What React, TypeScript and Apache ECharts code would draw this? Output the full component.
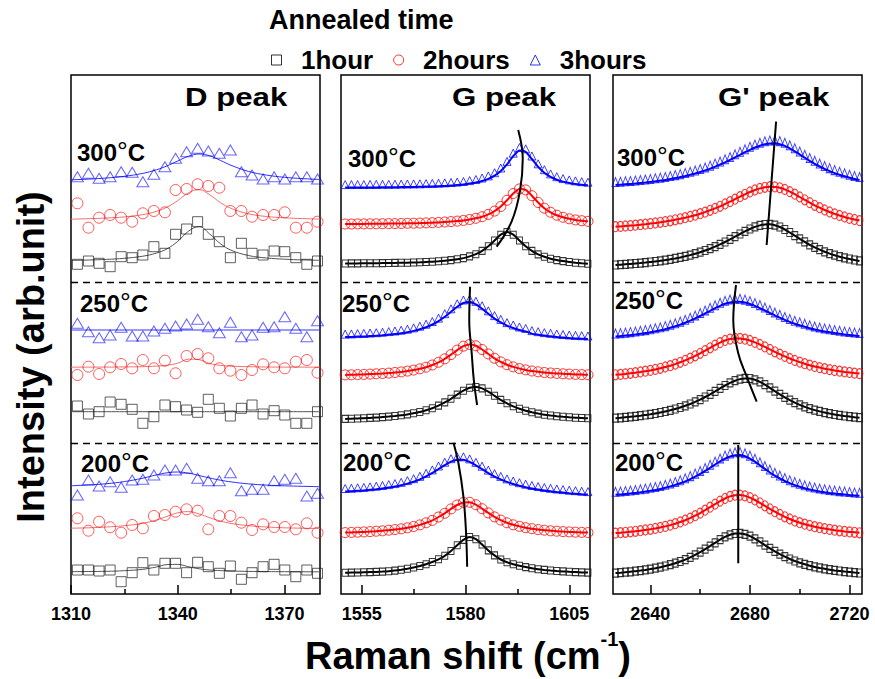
import React, { useEffect, useRef } from 'react';
import * as echarts from 'echarts';

// ---------------- DATA ----------------
const HOURS = ['1hour', '2hours', '3hours'];
const TEMPS = ['300', '250', '200'];

// D peak: measured points and fitted curves
const dX = [1311.8, 1314.9, 1317.9, 1321, 1324.1, 1327.2, 1330.2, 1333.3, 1336.4, 1339.4, 1342.5, 1345.6, 1348.6, 1351.7, 1354.8, 1357.9, 1360.9, 1364, 1367.1, 1370.1, 1373.2, 1376.3, 1379.3];
const d300h1 = [329.7, 333, 330.7, 327.3, 337.3, 336.3, 339, 347.3, 340.7, 359.7, 365, 372.3, 359.7, 352.3, 336.3, 350.7, 340.7, 339, 343, 342.3, 336.3, 329.7, 333];
const d300h2 = [390.7, 366.3, 376.3, 379, 376.3, 372.3, 380.7, 383, 381.7, 404, 405, 409.7, 408, 406.3, 383, 383, 377.3, 379, 379, 381.7, 366.3, 366.3, 372.3];
const d300h3 = [417.3, 420.7, 415.7, 417.3, 422.3, 421.7, 412.3, 419.7, 427.3, 435.7, 442.3, 445.7, 443, 440.7, 444, 422.3, 419, 415, 417.3, 415, 417.3, 417.3, 415];
const d250h1 = [188, 180, 182.3, 192, 189.7, 184.7, 170.7, 177.3, 189, 187.3, 184, 181.7, 194.7, 185.7, 178, 185.7, 189, 180, 183.3, 179, 170.7, 170.7, 182.3];
const d250h2 = [219, 227.3, 220, 226.7, 230, 225.7, 234, 225.7, 233.3, 220.7, 238, 240, 235.7, 225.7, 223.3, 219, 224, 229.7, 226.7, 225.7, 232.3, 234, 221.3];
const d250h3 = [270.7, 262.3, 256.3, 259, 266.7, 258, 258, 263, 265.7, 268, 270, 274.7, 267.3, 261.3, 271.7, 257.3, 259, 266.7, 267.3, 277.3, 265.7, 257.3, 273.3];
const d200h1 = [24, 24, 23, 24, 12.3, 21.3, 31.3, 24, 30.7, 30.7, 21.3, 31.7, 27.3, 20.7, 28, 14.7, 21.3, 27.3, 29.7, 24, 17.3, 24, 20.7];
const d200h2 = [75.7, 63.3, 72.3, 66.7, 61.3, 69, 65.7, 78, 79, 82.3, 84.7, 83.3, 64.7, 78, 78, 71.3, 64, 69.7, 67, 67, 64.7, 70.7, 61.3];
const d200h3 = [99, 114, 108, 112.3, 106.7, 114, 114.7, 119, 124, 124, 125.7, 115.7, 113.3, 113.3, 121.3, 103.3, 104.7, 104.7, 113.3, 114.7, 115.7, 98, 100.7];

const dFitX = [1310, 1315, 1320, 1325, 1330, 1334, 1337, 1340, 1343, 1346, 1349, 1352, 1355, 1360, 1365, 1370, 1375, 1380];
const d300h1Fit = [333.6, 334, 334.6, 335.7, 337.7, 340.9, 345.2, 352.6, 362.7, 367.4, 360, 350.3, 343.8, 338.4, 336, 334.8, 334.1, 333.7];
const d300h2Fit = [374.8, 375.3, 376, 377.1, 379.3, 382.6, 386.9, 393.4, 401.2, 404.4, 399.2, 391.4, 385.6, 380.1, 377.5, 376.2, 375.4, 374.9];
const d300h3Fit = [414.2, 414.9, 416, 417.7, 420.5, 424.2, 428.1, 433, 437.7, 440, 438.2, 433.6, 428.7, 422.5, 418.9, 416.7, 415.4, 414.5];
const d250h1Fit = [182.3, 182.3, 182.3, 182.3, 182.3, 182.3, 182.3, 182.3, 182.3, 182.3, 182.3, 182.3, 182.3, 182.3, 182.3, 182.3, 182.3, 182.3];
const d250h2Fit = [226.8, 226.9, 226.9, 227.1, 227.3, 227.9, 228.8, 230.8, 234.8, 234.3, 230.5, 228.6, 227.8, 227.3, 227, 226.9, 226.9, 226.8];
const d250h3Fit = [264, 264, 264, 264, 264, 264, 264, 264, 264, 264, 264, 264, 264, 264, 264, 264, 264, 264];
const d200h1Fit = [22.3, 22.5, 22.7, 23.3, 24.6, 27, 29.4, 29.6, 27.3, 25.2, 24, 23.4, 23, 22.6, 22.4, 22.3, 22.2, 22.2];
const d200h2Fit = [65.8, 66.2, 67, 68.3, 70.6, 74, 77.6, 81.2, 82.4, 80.1, 76.3, 73, 70.6, 68.3, 67, 66.2, 65.8, 65.5];
const d200h3Fit = [108.2, 109.1, 110.3, 112.4, 115.7, 119.1, 121.2, 122, 120.9, 118.5, 116, 113.8, 112.1, 110.1, 108.9, 108.2, 107.7, 107.3];

// G peak
const gX = [1551, 1552.5, 1554, 1555.5, 1557, 1558.5, 1560, 1561.5, 1563, 1564.5, 1566, 1567.5, 1569, 1570.5, 1572, 1573.5, 1575, 1576.5, 1578, 1579.5, 1581, 1582.5, 1584, 1585.5, 1587, 1588.5, 1590, 1591.5, 1593, 1594.5, 1596, 1597.5, 1599, 1600.5, 1602, 1603.5, 1605, 1606.5, 1608, 1609.5];
const g300h1 = [330.5, 330.6, 330.6, 330.7, 330.7, 330.8, 330.9, 331, 331.1, 331.2, 331.3, 331.5, 331.7, 332, 332.3, 332.7, 333.2, 333.9, 334.7, 335.9, 337.6, 339.8, 343.1, 347.7, 353.5, 359.3, 362, 359.3, 353.5, 347.7, 343.1, 339.6, 337.2, 335.3, 333.9, 332.9, 332, 331.3, 330.7, 330.2];
const g300h2 = [370, 370, 370.1, 370.1, 370.2, 370.2, 370.3, 370.4, 370.4, 370.5, 370.7, 370.8, 370.9, 371.1, 371.3, 371.6, 372, 372.4, 372.9, 373.6, 374.5, 375.7, 377.3, 379.6, 382.9, 387.5, 393.7, 400.5, 405.1, 404.1, 398.3, 391.5, 385.8, 381.7, 378.8, 376.7, 375.2, 374.1, 373.3, 372.7];
const g300h3 = [406.4, 406.5, 406.5, 406.5, 406.6, 406.6, 406.7, 406.7, 406.8, 406.9, 407, 407.1, 407.2, 407.4, 407.6, 407.8, 408.1, 408.5, 408.9, 409.5, 410.4, 411.5, 413, 415.1, 418.3, 423, 429.6, 437.8, 443.5, 442.2, 435, 427.2, 421.3, 417.1, 414.3, 412.4, 411.1, 410.1, 409.3, 408.8];
const g250h1 = [175.1, 175.3, 175.5, 175.8, 176.1, 176.4, 176.9, 177.4, 178, 178.7, 179.6, 180.7, 182, 183.7, 185.8, 188.4, 191.6, 195.2, 199.4, 203.3, 206.2, 207, 205.6, 202.3, 198.2, 194.1, 190.7, 187.7, 185.2, 183.2, 181.7, 180.4, 179.3, 178.5, 177.8, 177.2, 176.7, 176.3, 176, 175.7];
const g250h2 = [219.1, 219.2, 219.4, 219.6, 219.9, 220.2, 220.5, 220.9, 221.5, 222.1, 222.9, 223.9, 225.2, 226.8, 229, 231.7, 235.2, 239.4, 243.9, 247.8, 249.5, 248.2, 244.5, 240, 235.7, 232.1, 229.3, 227.1, 225.4, 224.1, 223, 222.2, 221.5, 221, 220.6, 220.2, 219.9, 219.6, 219.4, 219.2];
const g250h3 = [256.9, 257.1, 257.4, 257.6, 258, 258.3, 258.8, 259.4, 260, 260.8, 261.8, 263.1, 264.8, 266.8, 269.5, 272.9, 277.3, 282.2, 287.2, 291, 291.9, 289.7, 285.3, 280.2, 275.4, 271.6, 268.4, 266, 264, 262.6, 260.4, 259.3, 258.4, 257.7, 257, 256.5, 256, 255.6, 255.3, 255];
const g200h1 = [21.2, 21.4, 21.5, 21.7, 21.9, 22.1, 22.4, 22.8, 23.4, 24.3, 25.3, 26.5, 28, 29.8, 32, 34.7, 38.2, 43, 48.8, 54.1, 57, 54.8, 49.5, 43.6, 38.6, 34.5, 31.8, 29.8, 28.2, 26.9, 25.7, 24.8, 24.1, 23.5, 23, 22.6, 22.2, 21.9, 21.6, 21.4];
const g200h2 = [61.4, 61.6, 61.8, 62.1, 62.4, 62.8, 63.2, 63.8, 64.4, 65.2, 66.2, 67.5, 69.1, 71.2, 73.6, 77, 80.7, 85.1, 89, 91.6, 91.7, 89.3, 85.3, 81.1, 77.1, 73.9, 71.2, 69.2, 67.6, 66.3, 65.3, 64.4, 63.8, 63.2, 62.8, 62.4, 62.1, 61.8, 61.6, 61.4];
const g200h3 = [102.5, 102.8, 103.2, 103.6, 104.2, 104.8, 105.5, 106.4, 107.4, 108.7, 110.4, 112.3, 114.7, 117.7, 121.1, 125, 128.8, 132.3, 134.3, 134.2, 132.1, 128.7, 124.8, 120.9, 117.4, 114.6, 112.1, 110, 108.3, 106.8, 105.5, 104.5, 103.5, 102.7, 102, 101.4, 100.8, 100.3, 99.8, 99.4];

// G' peak
const gpX = [2626, 2628, 2630, 2632, 2634, 2636, 2638, 2640, 2642, 2644, 2646, 2648, 2650, 2652, 2654, 2656, 2658, 2660, 2662, 2664, 2666, 2668, 2670, 2672, 2674, 2676, 2678, 2680, 2682, 2684, 2686, 2688, 2690, 2692, 2694, 2696, 2698, 2700, 2702, 2704, 2706, 2708, 2710, 2712, 2714, 2716, 2718, 2720, 2722, 2724];
const gp300h1 = [329, 329.3, 329.7, 330.1, 330.5, 330.9, 331.4, 332, 332.5, 333.2, 333.9, 334.7, 335.6, 336.6, 337.7, 338.9, 340.3, 341.8, 343.5, 345.3, 347.4, 349.6, 352, 354.6, 357.3, 360, 362.6, 365, 367.1, 368.6, 369.5, 369.7, 368.8, 367, 364.5, 361.5, 358.4, 355.2, 352.1, 349.2, 346.6, 344.3, 342.2, 340.4, 338.8, 337.3, 336.1, 335, 334, 333.1];
const gp300h2 = [367.3, 367.6, 368, 368.4, 368.8, 369.3, 369.8, 370.4, 371, 371.7, 372.4, 373.2, 374.2, 375.2, 376.3, 377.5, 378.8, 380.3, 381.9, 383.7, 385.6, 387.7, 390, 392.3, 394.8, 397.3, 399.7, 402, 404, 405.6, 406.7, 407.3, 407.1, 406.2, 404.6, 402.4, 399.8, 397, 394.2, 391.4, 388.7, 386.3, 384, 382, 380.1, 378.5, 377, 375.6, 374.5, 373.4];
const gp300h3 = [409, 409.3, 409.7, 410.1, 410.5, 411, 411.5, 412.1, 412.7, 413.4, 414.1, 415, 415.9, 416.9, 418, 419.2, 420.5, 422, 423.6, 425.4, 427.4, 429.5, 431.7, 434.1, 436.7, 439.2, 441.8, 444.2, 446.5, 448.3, 449.7, 450.5, 450.7, 449.9, 448.2, 445.7, 442.7, 439.5, 436.3, 433.1, 430.2, 427.5, 425, 422.9, 420.9, 419.2, 417.7, 416.3, 415.1, 414.1];
const gp250h1 = [175.8, 176.2, 176.7, 177.2, 177.7, 178.3, 179, 179.7, 180.5, 181.5, 182.5, 183.7, 185, 186.5, 188.2, 190, 192.1, 194.4, 197, 199.7, 202.6, 205.6, 208.5, 211.1, 213.3, 214.9, 215.6, 215.5, 214.2, 212.1, 209.3, 206.1, 202.8, 199.6, 196.6, 193.8, 191.3, 189.1, 187.1, 185.4, 183.9, 182.6, 181.4, 180.4, 179.5, 178.7, 178, 177.4, 176.8, 176.3];
const gp250h2 = [219.2, 219.6, 220.1, 220.7, 221.3, 222, 222.8, 223.6, 224.6, 225.7, 227, 228.3, 229.9, 231.7, 233.6, 235.8, 238.2, 240.7, 243.4, 246.2, 248.9, 251.4, 253.5, 254.9, 255.6, 255.6, 254.8, 253.5, 251.6, 249.5, 247.1, 244.6, 242.2, 239.8, 237.6, 235.5, 233.6, 231.9, 230.3, 228.8, 227.5, 226.4, 225.3, 224.4, 223.5, 222.8, 222.1, 221.5, 220.9, 220.4];
const gp250h3 = [257.5, 257.9, 258.4, 258.9, 259.5, 260.2, 260.9, 261.8, 262.7, 263.7, 264.9, 266.2, 267.7, 269.4, 271.3, 273.3, 275.6, 278, 280.6, 283.2, 285.8, 288.2, 290.2, 291.6, 292.3, 292.2, 291.4, 290, 288.1, 285.9, 283.5, 281, 278.6, 276.3, 274.1, 272.1, 270.3, 268.7, 267.2, 265.8, 264.6, 263.6, 262.6, 261.8, 261, 260.3, 259.6, 259.1, 258.6, 258.1];
const gp200h1 = [20.9, 21.3, 21.8, 22.2, 22.8, 23.4, 24.1, 24.9, 25.8, 26.8, 28, 29.3, 30.8, 32.5, 34.4, 36.6, 39.1, 41.8, 44.8, 47.9, 51.2, 54.3, 57.1, 59.2, 60.5, 60.6, 59.7, 57.8, 55.2, 52.2, 48.9, 45.7, 42.7, 39.8, 37.3, 35, 33, 31.2, 29.7, 28.3, 27.1, 26.1, 25.2, 24.3, 23.6, 23, 22.4, 21.9, 21.4, 21];
const gp200h2 = [60.9, 61.3, 61.7, 62.2, 62.7, 63.3, 64, 64.7, 65.6, 66.5, 67.6, 68.9, 70.3, 72, 73.8, 75.9, 78.3, 80.9, 83.8, 86.8, 89.9, 92.9, 95.5, 97.6, 98.8, 98.9, 98.1, 96.4, 94, 91.2, 88.2, 85.2, 82.3, 79.6, 77.2, 75, 73, 71.3, 69.8, 68.5, 67.3, 66.3, 65.4, 64.6, 63.8, 63.2, 62.6, 62.1, 61.7, 61.2];
const gp200h3 = [99.2, 99.6, 100.1, 100.5, 101.1, 101.7, 102.4, 103.2, 104.1, 105.1, 106.3, 107.6, 109.1, 110.8, 112.7, 114.9, 117.4, 120.1, 123.1, 126.2, 129.5, 132.6, 135.4, 137.5, 138.8, 138.9, 137.7, 135.4, 132.3, 128.7, 125.1, 121.5, 118.3, 115.5, 113, 110.8, 108.9, 107.3, 105.8, 104.6, 103.5, 102.6, 101.8, 101.1, 100.5, 99.9, 99.5, 99, 98.6, 98.3];

// peak-shift guide curves
const gGuide300X = [1592.7, 1593.8, 1593.1, 1591.1, 1587.5];
const gGuide300Y = [464, 435.7, 402.3, 372.3, 347.3];
const gGuide250X = [1581.1, 1580.9, 1581.5, 1582, 1582.8];
const gGuide250Y = [307.3, 274, 240.7, 214, 189];
const gGuide200X = [1577.1, 1578.3, 1579.5, 1580.1, 1580.4];
const gGuide200Y = [151.3, 130.7, 97.3, 64, 27.3];
const gpGuide300X = [2690.5, 2686.7];
const gpGuide300Y = [472.3, 349];
const gpGuide250X = [2674.4, 2673.3, 2675.3, 2678.7, 2682.7];
const gpGuide250Y = [309, 274, 240.7, 217.3, 192.3];
const gpGuide200X = [2675.3, 2675.3];
const gpGuide200Y = [149, 30.7];

// group separators and axis ticks
const dividers = [151, 312];
const dMajor = [1310, 1340, 1370];
const dMinor = [1325, 1355];
const gMajor = [1555, 1580, 1605];
const gMinor = [1567.5, 1592.5];
const gpMajor = [2640, 2680, 2720];
const gpMinor = [2660, 2700];

// ---------------- STYLE ----------------
const FONT = '"Liberation Sans", Arial, Helvetica, sans-serif';
const COLORS = ['#000000', '#ff0000', '#0000ff'];
const MARK_COLORS = ['rgba(20,20,20,0.85)', 'rgba(255,0,0,0.8)', 'rgba(0,0,255,0.75)'];
const D_FIT_COLORS = ['#555555', '#f07070', '#3030ff'];
const SYMBOLS = ['rect', 'circle', 'triangle'];
const D_SIZE: any[] = [10, 11, [12, 10]];
const G_SIZE: any[] = [[6, 7], [10, 10], [8, 8]];
const GP_SIZE: any[] = [[6, 8], [7, 10], [7, 9]];

const zip = (xs: number[], ys: number[]) => xs.map((x, i) => [x, ys[i]]);

function measure(text: string, font: string) {
  const c = document.createElement('canvas').getContext('2d')!;
  c.font = font;
  return c.measureText(text).width;
}

function buildOption() {
  const series: any[] = [];
  const dMarks = [[d300h1, d300h2, d300h3], [d250h1, d250h2, d250h3], [d200h1, d200h2, d200h3]];
  const dFits = [[d300h1Fit, d300h2Fit, d300h3Fit], [d250h1Fit, d250h2Fit, d250h3Fit], [d200h1Fit, d200h2Fit, d200h3Fit]];
  const gSets = [[g300h1, g300h2, g300h3], [g250h1, g250h2, g250h3], [g200h1, g200h2, g200h3]];
  const gpSets = [[gp300h1, gp300h2, gp300h3], [gp250h1, gp250h2, gp250h3], [gp200h1, gp200h2, gp200h3]];

  const markLine = {
    silent: true,
    symbol: 'none',
    label: { show: false },
    lineStyle: { type: [7, 5], color: '#000', width: 1.3 },
    data: dividers.map((v) => ({ yAxis: v })),
  };

  dMarks.forEach((row, ti) =>
    row.forEach((ys, hi) => {
      series.push({
        type: 'scatter', name: HOURS[hi], xAxisIndex: 0, yAxisIndex: 0,
        data: zip(dX, ys), symbol: SYMBOLS[hi], symbolSize: D_SIZE[hi],
        itemStyle: { color: 'rgba(0,0,0,0)', borderColor: MARK_COLORS[hi], borderWidth: 1 },
        silent: true, z: 3,
        ...(ti === 0 && hi === 0 ? { markLine } : {}),
      });
      series.push({
        type: 'line', name: HOURS[hi], xAxisIndex: 0, yAxisIndex: 0,
        data: zip(dFitX, dFits[ti][hi]), smooth: 0.4, showSymbol: false,
        lineStyle: { color: D_FIT_COLORS[hi], width: 1 }, silent: true, z: 2,
      });
    })
  );

  const addDense = (sets: number[][][], xs: number[], gi: number, sizes: any[]) => {
    sets.forEach((row, ti) =>
      row.forEach((ys, hi) => {
        series.push({
          type: 'line', name: HOURS[hi], xAxisIndex: gi * 2, yAxisIndex: gi,
          data: zip(xs, ys), showSymbol: true, showAllSymbol: true,
          symbol: SYMBOLS[hi], symbolSize: sizes[hi], symbolOffset: hi === 2 ? [0, -3] : [0, 0],
          itemStyle: { color: 'rgba(0,0,0,0)', borderColor: MARK_COLORS[hi], borderWidth: 1 },
          lineStyle: { color: COLORS[hi], width: 2 }, smooth: 0.2, silent: true, z: 3,
          ...(ti === 0 && hi === 0 ? { markLine } : {}),
        });
      })
    );
  };
  addDense(gSets, gX, 1, G_SIZE);
  addDense(gpSets, gpX, 2, GP_SIZE);

  const guides: [number[], number[], number][] = [
    [gGuide300X, gGuide300Y, 1], [gGuide250X, gGuide250Y, 1], [gGuide200X, gGuide200Y, 1],
    [gpGuide300X, gpGuide300Y, 2], [gpGuide250X, gpGuide250Y, 2], [gpGuide200X, gpGuide200Y, 2],
  ];
  guides.forEach(([xs, ys, gi]) => {
    series.push({
      type: 'line', name: 'peak shift', xAxisIndex: gi * 2, yAxisIndex: gi,
      data: zip(xs, ys), smooth: 0.4, showSymbol: false,
      lineStyle: { color: '#000', width: 2 }, silent: true, z: 6,
    });
  });

  const axesFor = (gi: number, min: number, max: number, major: number[], minor: number[]) => [
    {
      type: 'value', gridIndex: gi, min, max, position: 'bottom',
      axisLine: { show: false }, splitLine: { show: false },
      axisTick: { show: true, inside: true, length: 9, customValues: major, lineStyle: { color: '#000', width: 1.5 } },
      axisLabel: {
        show: true, customValues: major, formatter: (v: number) => `{t|${v}}`,
        margin: 10,
        rich: { t: { fontSize: 18, fontWeight: 'bold', fontFamily: FONT, color: '#000', lineHeight: 20 } },
      },
    },
    {
      type: 'value', gridIndex: gi, min, max, position: 'bottom',
      axisLine: { show: false }, splitLine: { show: false },
      axisTick: { show: true, inside: true, length: 5, customValues: minor, lineStyle: { color: '#000', width: 1.5 } },
      axisLabel: { show: false },
    },
  ];

  const gridLefts = [71, 341, 613];

  // texts
  const graphic: any[] = [];
  const txt = (text: string, x: number, y: number, font: string, extra: any = {}) => ({
    type: 'text', x, y, silent: true, ...extra,
    style: { text, font, fill: '#000', textAlign: extra.align || 'left', textVerticalAlign: 'middle' },
  });
  graphic.push(txt('Annealed time', 269, 20, `bold 27px ${FONT}`));
  graphic.push(txt('D peak', 185, 97, `bold 26px ${FONT}`, { scaleX: 1.2 }));
  graphic.push(txt('G peak', 452, 97, `bold 26px ${FONT}`, { scaleX: 1.2 }));
  graphic.push(txt("G' peak", 718, 97, `bold 26px ${FONT}`, { scaleX: 1.2 }));

  const tempPos = [
    [[77, 152], [80, 303], [81, 463]],
    [[348, 158], [342, 303], [343, 462]],
    [[617, 157], [615, 300], [615, 462]],
  ];
  tempPos.forEach((col) =>
    col.forEach(([x, y], ti) => {
      graphic.push({
        type: 'text', x, y, silent: true,
        style: {
          text: `{n|${TEMPS[ti]}}{d|°}{n|C}`,
          textAlign: 'left', textVerticalAlign: 'middle',
          rich: {
            n: { fontSize: 24, fontWeight: 'bold', fontFamily: FONT, fill: '#000' },
            d: { fontSize: 27, fontWeight: 'normal', fontFamily: FONT, fill: '#000' },
          },
        },
      });
    })
  );

  graphic.push({
    type: 'text', x: 31, y: 357, rotation: Math.PI / 2, silent: true,
    style: { text: 'Intensity (arb.unit)', font: `bold 38px ${FONT}`, fill: '#000', textAlign: 'center', textVerticalAlign: 'middle' },
  });

  const mainFont = `bold 38px ${FONT}`;
  const supFont = `bold 20px ${FONT}`;
  const p1 = 'Raman shift (cm';
  const p2 = '-1';
  const p3 = ')';
  const w1 = measure(p1, mainFont);
  const w2 = measure(p2, supFont);
  const w3 = measure(p3, mainFont);
  const x0 = 468 - (w1 + w2 + w3) / 2;
  graphic.push(txt(p1, x0, 656, mainFont));
  graphic.push(txt(p2, x0 + w1, 639, supFont));
  graphic.push(txt(p3, x0 + w1 + w2, 656, mainFont));

  return {
    animation: false,
    backgroundColor: '#ffffff',
    textStyle: { fontFamily: FONT },
    grid: gridLefts.map((left) => ({
      left, top: 75, width: 249, height: 519, show: true,
      borderColor: '#000', borderWidth: 1.5, backgroundColor: 'rgba(0,0,0,0)',
    })),
    xAxis: [
      ...axesFor(0, 1310, 1380, dMajor, dMinor),
      ...axesFor(1, 1550, 1610, gMajor, gMinor),
      ...axesFor(2, 2625, 2725, gpMajor, gpMinor),
    ],
    yAxis: [0, 1, 2].map((gi) => ({ type: 'value', gridIndex: gi, min: 0, max: 519, show: false })),
    legend: {
      selectedMode: false,
      left: 266, top: 42,
      itemWidth: 10, itemHeight: 10, itemGap: 20,
      formatter: (name: string) => '  ' + name,
      textStyle: { fontSize: 26, fontWeight: 'bold', color: '#000', fontFamily: FONT },
      data: HOURS.map((name, hi) => ({
        name, icon: SYMBOLS[hi],
        itemStyle: { color: 'rgba(0,0,0,0)', borderColor: COLORS[hi], borderWidth: 1 },
      })),
    },
    graphic,
    series,
  };
}

export default function App() {
  const ref = useRef<HTMLDivElement>(null);
  useEffect(() => {
    const chart = echarts.init(ref.current!, null, { renderer: 'svg' });
    chart.setOption(buildOption() as any);
    return () => chart.dispose();
  }, []);
  return <div ref={ref} style={{ position: 'fixed', left: 0, top: 0, width: 875, height: 679, background: '#fff' }} />;
}
